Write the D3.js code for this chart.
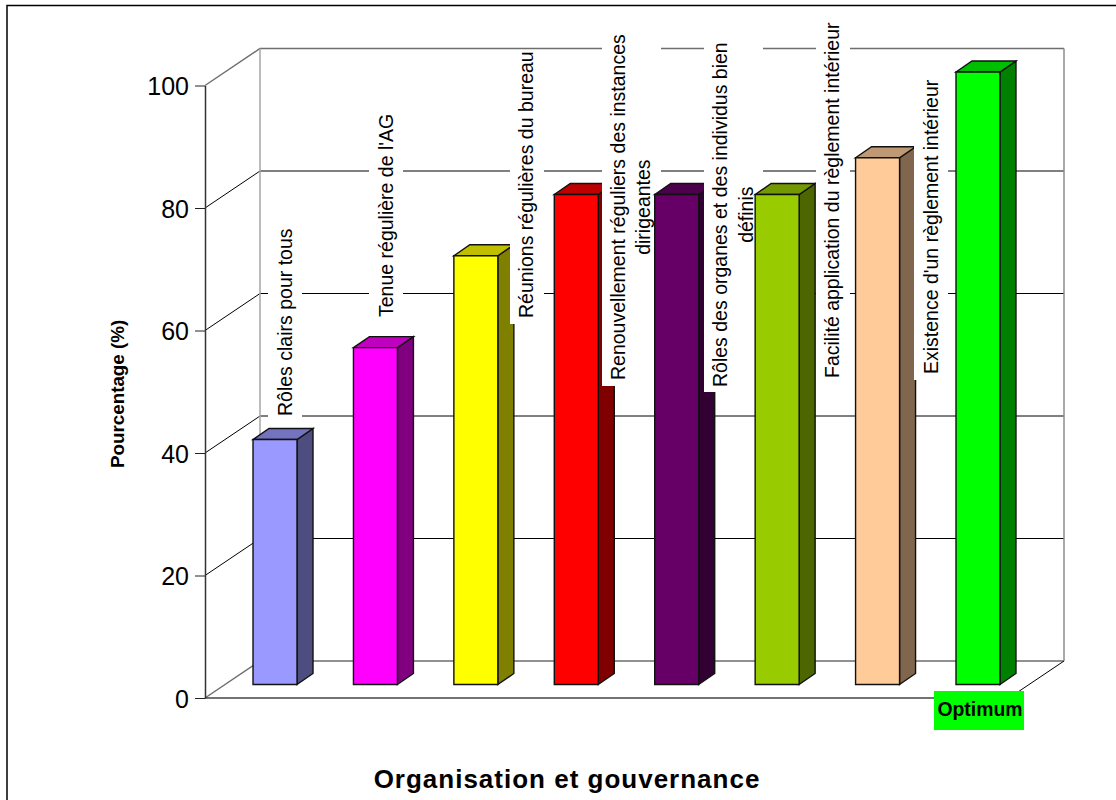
<!DOCTYPE html>
<html><head><meta charset="utf-8">
<script src="https://cdn.jsdelivr.net/npm/d3@7"></script>
<style>html,body{margin:0;padding:0;background:#fff}svg{display:block}text{font-family:"Liberation Sans",Arial,sans-serif;fill:#000}</style>
</head><body><svg id="c" width="1116" height="800"></svg>
<script>
const categories = [
  ["Rôles clairs pour tous"],
  ["Tenue régulière de l'AG"],
  ["Réunions régulières du bureau"],
  ["Renouvellement réguliers des instances","dirigeantes"],
  ["Rôles des organes et des individus bien","définis"],
  ["Facilité application du règlement intérieur"],
  ["Existence d'un règlement intérieur"],
  ["Optimum"]
];
const values = [40, 55, 70, 80, 80, 80, 86, 100];
const frontColors = ["#9999FF","#FF00FF","#FFFF00","#FF0000","#660066","#99CC00","#FFCC99","#00FF00"];
const yTicks = [0, 20, 40, 60, 80, 100];
const yTitle = "Pourcentage (%)";
const chartTitle = "Organisation et gouvernance";

// layout
const wallDx = 55, wallDy = -37;
const barDx = 16, barDy = -11, barLift = 13.5;
const floorRight = 1009;
const labelSize = 19.5;
// manual data-label placement: text line baseline x, bottom of text y, white box [left,right,top,bottom]
const labelLayout = [
  {xs:[291.7],       bottom:416, box:[268,302,222,420]},
  {xs:[392.7],       bottom:317, box:[369,403,110,321]},
  {xs:[532.7],       bottom:318, box:[510,544,50,324]},
  {xs:[625,650],     bottom:380, box:[602,661,28,386]},
  {xs:[727,753],     bottom:387, box:[704,763,36,392]},
  {xs:[839],         bottom:378, box:[816,850,20,384]},
  {xs:[937.7],       bottom:374, box:[914,948,74,380]}
];

const svg = d3.select("#c");
const y = d3.scaleLinear().domain([0,100]).range([698,85.5]);
const x = d3.scaleBand().domain(d3.range(values.length)).range([224.8,1028.2]).paddingInner(0.562).paddingOuter(0.281);
const left = 205, back = left + wallDx, right = floorRight + wallDx;

// frame
svg.append("path").attr("d","M7,800V5.5H1116").attr("fill","none").attr("stroke","#000").attr("stroke-width",1.5);

// walls and gridlines
const edge = t => (t===0||t===100);
svg.append("g").selectAll("path").data(yTicks).join("path")
  .attr("d",t=>`M${left},${y(t)}L${back},${y(t)+wallDy}H${right}`)
  .attr("fill","none")
  .attr("stroke",t=>edge(t)?"#6e6e6e":"#000")
  .attr("stroke-width",t=>edge(t)?1.5:1);
svg.append("line").attr("x1",back).attr("x2",back).attr("y1",y(100)+wallDy).attr("y2",y(0)+wallDy).attr("stroke","#a6a6a6").attr("stroke-width",1.5);
svg.append("line").attr("x1",right).attr("x2",right).attr("y1",y(100)+wallDy).attr("y2",y(0)+wallDy).attr("stroke","#8c8c8c").attr("stroke-width",1.5);
svg.append("path").attr("d",`M${floorRight},${y(0)}L${right},${y(0)+wallDy}`).attr("stroke","#000").attr("fill","none");
svg.append("line").attr("x1",left).attr("x2",floorRight).attr("y1",y(0)).attr("y2",y(0)).attr("stroke","#444").attr("stroke-width",1.5);

// axis
const axis = d3.axisLeft(y).tickValues(yTicks).tickSize(10).tickPadding(6).tickSizeOuter(0);
const ax = svg.append("g").attr("transform",`translate(${left},0)`).call(axis);
ax.select(".domain").attr("stroke","#333").attr("stroke-width",1.5);
ax.selectAll(".tick line").attr("stroke","#222").attr("stroke-width",1);
ax.selectAll("text").style("font-family",'"Liberation Sans",Arial,sans-serif').style("font-size","25px").attr("fill","#000").attr("dy","0.36em");

// bars: each bar is followed by its own label, so the next bar overlaps the label's box
const shade = (c,k)=>{const r=d3.rgb(c);return d3.rgb(r.r*k,r.g*k,r.b*k).formatHex();};
const bx = i=>x(i), bw = x.bandwidth(), by = v=>y(v)-barLift;
function face(sel,d,col){
  sel.append("path").attr("d",d).attr("fill",col).attr("stroke","#111").attr("stroke-width",1.4);
}
const groups = svg.append("g").selectAll("g").data(values).join("g");
groups.each(function(v,i){
  const g = d3.select(this), c = frontColors[i];
  face(g,`M${bx(i)+bw},${by(0)}l${barDx},${barDy}V${by(v)+barDy}l${-barDx},${-barDy}Z`,shade(c,0.5));
  face(g,`M${bx(i)},${by(v)}l${barDx},${barDy}h${bw}l${-barDx},${-barDy}Z`,shade(c,0.75));
  face(g,`M${bx(i)},${by(0)}V${by(v)}h${bw}V${by(0)}Z`,c);
  const d = labelLayout[i];
  if(!d) return;
  g.append("rect").attr("x",d.box[0]).attr("y",d.box[2]).attr("width",d.box[1]-d.box[0]).attr("height",d.box[3]-d.box[2]).attr("fill","#fff");
  const first = g.append("text").attr("transform",`translate(${d.xs[0]},${d.bottom}) rotate(-90)`)
    .attr("font-size",labelSize).text(categories[i][0]);
  if(categories[i][1]){
    const second = g.append("text").attr("font-size",labelSize).text(categories[i][1]);
    const off = (first.node().getComputedTextLength()-second.node().getComputedTextLength())/2;
    second.attr("transform",`translate(${d.xs[1]},${d.bottom-off}) rotate(-90)`);
  }
});

// optimum label
const oi = categories.length-1;
svg.append("rect").attr("x",934).attr("y",691).attr("width",90).attr("height",39).attr("fill",frontColors[oi]);
svg.append("text").attr("x",980).attr("y",716).attr("text-anchor","middle").attr("font-size",19.4).attr("font-weight","bold").text(categories[oi][0]);

// titles
svg.append("text").attr("transform","translate(124,468) rotate(-90)").attr("font-size",18.8).attr("font-weight","bold").text(yTitle);
svg.append("text").attr("x",567).attr("y",788).attr("text-anchor","middle").attr("font-size",26).attr("letter-spacing",1).attr("font-weight","bold").text(chartTitle);
</script></body></html>
